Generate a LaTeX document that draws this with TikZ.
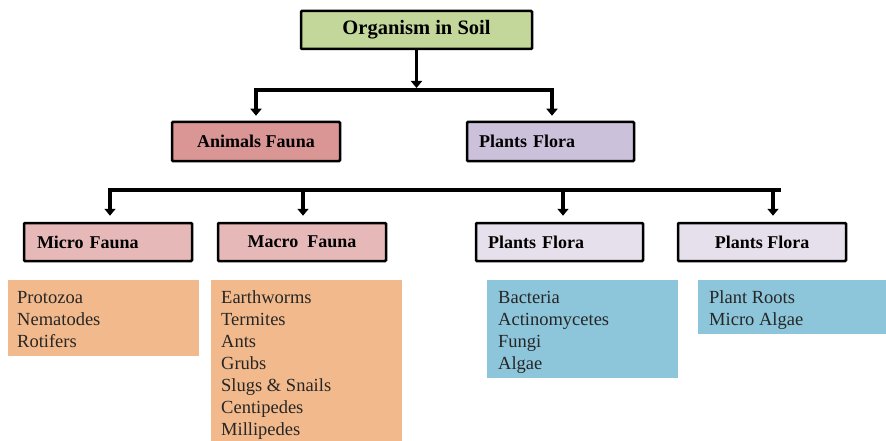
\documentclass[tikz,border=0pt]{standalone}
\usepackage{fontspec}
\setmainfont{Liberation Serif}
\usetikzlibrary{arrows.meta}
\definecolor{topgreen}{HTML}{C4D79B}
\definecolor{animred}{HTML}{D99694}
\definecolor{plantlav}{HTML}{CCC1DA}
\definecolor{animlight}{HTML}{E6B9B8}
\definecolor{plantlight}{HTML}{E6E0EC}
\definecolor{listorange}{HTML}{F2BA8C}
\definecolor{listblue}{HTML}{8DC6DA}
\tikzset{
  catbox/.style={draw=black, line width=2.5pt, rounded corners=1pt, inner sep=0pt,
    font=\bfseries\fontsize{18}{20}\selectfont},
  leftbox/.style={catbox, align=left, text width=#1},
  listbox/.style={inner sep=0pt, anchor=north west},
  listtext/.style={inner sep=0pt, anchor=north west, align=left,
    font=\fontsize{18.5}{22}\selectfont, text=black!85},
  barline/.style={line width=4pt, line cap=rect},
  arr/.style={line width=3.5pt, -{Triangle[width=11pt,length=7pt]}}
}
\begin{document}
\begin{tikzpicture}[x=1pt,y=-1pt]
\useasboundingbox (0,0) rectangle (886,441);
% top
\node[catbox, fill=topgreen, minimum width=231pt, minimum height=38pt,
  font=\bfseries\fontsize{20.5}{24}\selectfont] (top) at (416.5,30) {Organism in Soil};
% level 2
\node[catbox, fill=animred, minimum width=168pt, minimum height=39pt] (anim) at (256,141.5) {Animals Fauna};
\node[catbox, fill=plantlav, minimum width=167pt, minimum height=39pt, leftbox=143pt] (plant) at (550.5,141.5) {Plants Flora};
% level 3
\node[catbox, fill=animlight, minimum width=168pt, minimum height=38pt, leftbox=142pt] (micro) at (108,242) {Micro Fauna};
\node[catbox, fill=animlight, minimum width=168pt, minimum height=38pt] (macro) at (302,242) {Macro~~Fauna};
\node[catbox, fill=plantlight, minimum width=167pt, minimum height=38pt, leftbox=143pt] (pf3) at (559.5,242) {Plants Flora};
\node[catbox, fill=plantlight, minimum width=168pt, minimum height=38pt] (pf4) at (762,242) {Plants Flora};
% bars
\coordinate (b1w) at (256,90);
\coordinate (b1e) at (552,90);
\draw[barline] (b1w) -- (b1e);
\coordinate (b2w) at (110,190);
\coordinate (b2e) at (779,190);
\draw[barline] (b2w) -- (b2e);
% arrows
\draw[arr] (top.south) -- ([yshift=2pt]top.south |- b1w);
\draw[arr, shorten >=5pt] (b1w) -- (b1w |- anim.north);
\draw[arr, shorten >=5pt] (b1e) -- (b1e |- plant.north);
\coordinate (t1) at (110,190);
\coordinate (t2) at (303,190);
\coordinate (t3) at (563,190);
\coordinate (t4) at (773,190);
\draw[arr, shorten >=6pt] (t1) -- (t1 |- micro.north);
\draw[arr, shorten >=6pt] (t2) -- (t2 |- macro.north);
\draw[arr, shorten >=6pt] (t3) -- (t3 |- pf3.north);
\draw[arr, shorten >=6pt] (t4) -- (t4 |- pf4.north);
% list boxes
\node[listbox, fill=listorange, minimum width=191pt, minimum height=76pt] (l1) at (8,280) {};
\node[listtext] at ([xshift=9pt,yshift=-7.6pt]l1.north west) {\strut Protozoa\\Nematodes\\Rotifers};
\node[listbox, fill=listorange, minimum width=191pt, minimum height=170pt] (l2) at (211,280) {};
\node[listtext] at ([xshift=10pt,yshift=-7.6pt]l2.north west) {\strut Earthworms\\Termites\\Ants\\Grubs\\Slugs \& Snails\\Centipedes\\Millipedes};
\node[listbox, fill=listblue, minimum width=191pt, minimum height=98pt] (l3) at (487,280) {};
\node[listtext] at ([xshift=11pt,yshift=-7.6pt]l3.north west) {\strut Bacteria\\Actinomycetes\\Fungi\\Algae};
\node[listbox, fill=listblue, minimum width=190pt, minimum height=54pt] (l4) at (698,280) {};
\node[listtext] at ([xshift=11pt,yshift=-7.6pt]l4.north west) {\strut Plant Roots\\Micro Algae};
\end{tikzpicture}
\end{document}
